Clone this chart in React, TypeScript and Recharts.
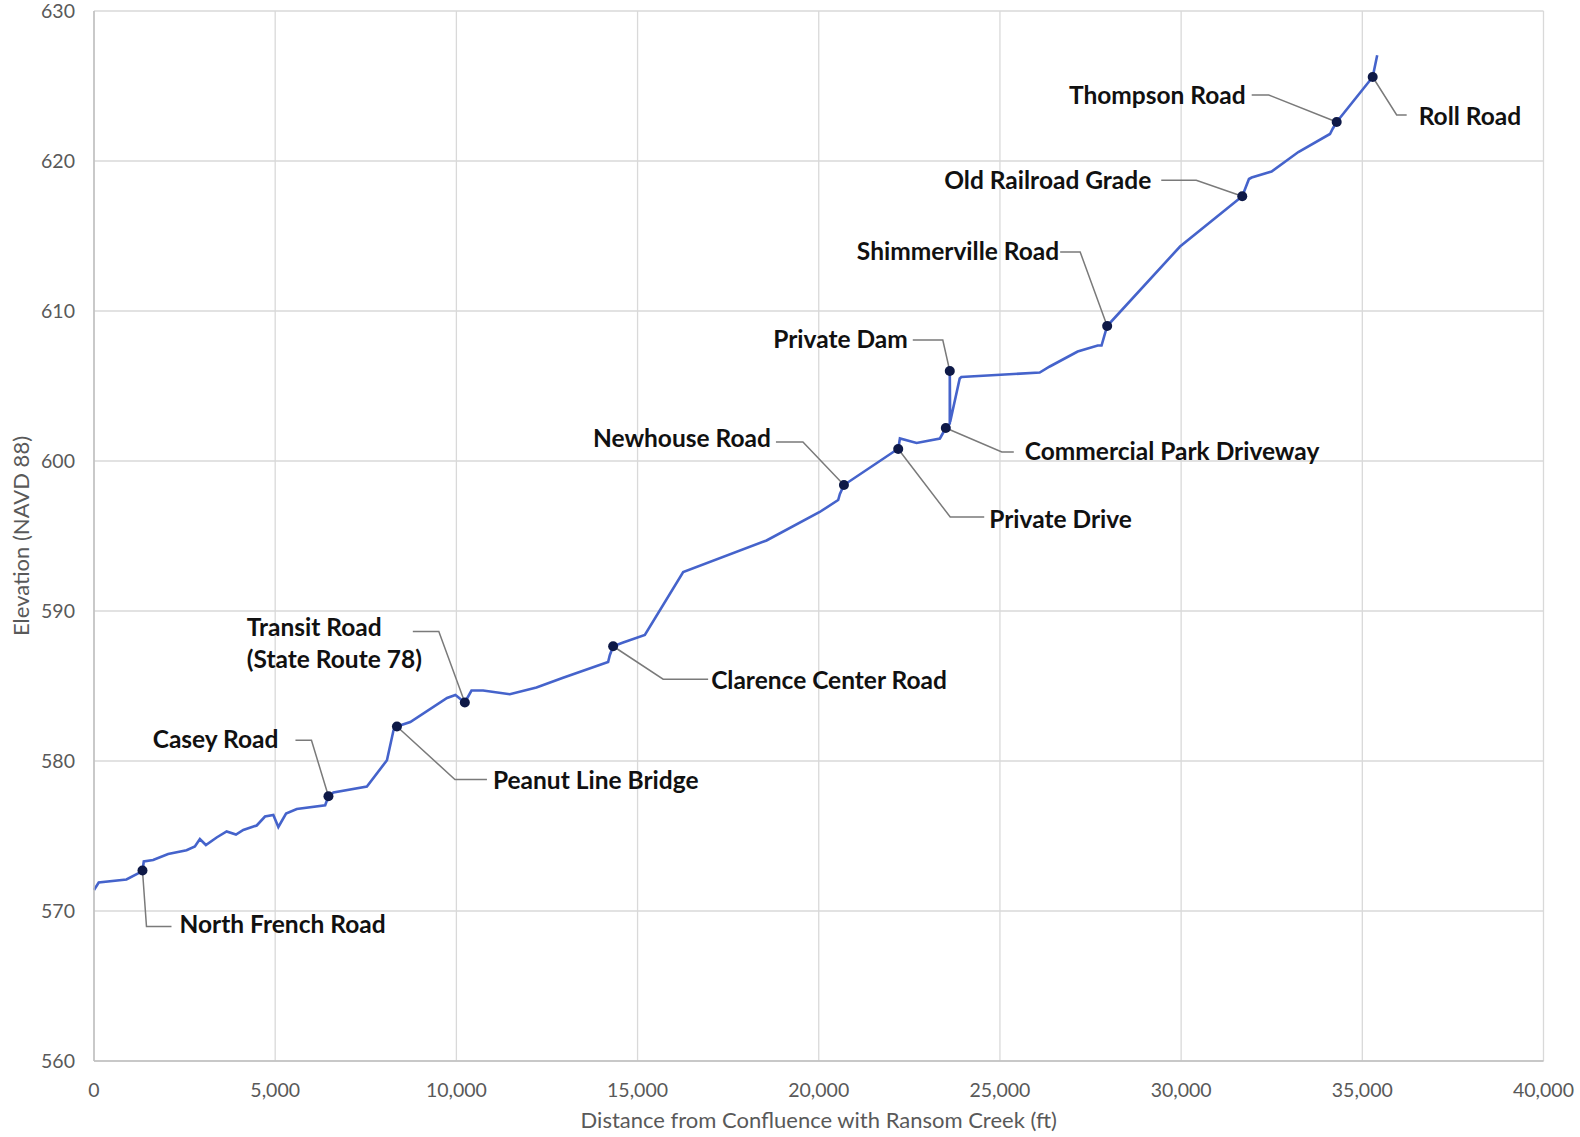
import React from "react";
import {
  ComposedChart,
  Line,
  Scatter,
  XAxis,
  YAxis,
  CartesianGrid,
  Label,
} from "recharts";

// Water surface profile: distance upstream (ft) vs elevation (NAVD 88)
const distanceFt = [
  0, 130, 895, 1217, 1338, 1374, 1631, 2046, 2554, 2784, 2922, 3088, 3384, 3660,
  3918, 4120, 4490, 4719, 4949, 5087, 5300, 5596, 6379, 6470, 6608, 7531, 8084,
  8265, 8360, 8728, 9743, 9973, 10233, 10417, 10738, 11474, 12210, 12945, 14187,
  14234, 14326, 14602, 15201, 16259, 18559, 20027, 20536, 20584, 20695, 22056,
  22193, 22240, 22700, 23344, 23436, 23506, 23616, 23616, 23626, 23890, 23935,
  26097, 26376, 27145, 27699, 27804, 27959, 29970, 31687, 31872, 31947, 32496,
  33235, 34108, 34183, 34293, 35286, 35411,
];
const elevationFt = [
  571.4, 571.9, 572.1, 572.5, 572.7, 573.3, 573.4, 573.8, 574.05, 574.3, 574.8,
  574.4, 574.9, 575.3, 575.1, 575.4, 575.7, 576.3, 576.4, 575.6, 576.5, 576.8,
  577.05, 577.65, 577.9, 578.3, 580.05, 582.05, 582.3, 582.6, 584.2, 584.4,
  583.9, 584.7, 584.7, 584.45, 584.9, 585.55, 586.6, 587.05, 587.65, 587.9,
  588.4, 592.6, 594.7, 596.6, 597.4, 597.8, 598.4, 600.6, 600.8, 601.5, 601.2,
  601.5, 601.9, 602.2, 602.5, 606.0, 602.6, 605.5, 605.6, 605.9, 606.3, 607.3,
  607.7, 607.7, 609.0, 614.3, 617.65, 618.8, 618.9, 619.3, 620.6, 621.8, 622.15,
  622.6, 625.6, 627.05,
];

// Crossings and structures along the reach
const structureNames = [
  "North French Road",
  "Casey Road",
  "Peanut Line Bridge",
  "Transit Road (State Route 78)",
  "Clarence Center Road",
  "Newhouse Road",
  "Private Drive",
  "Commercial Park Driveway",
  "Private Dam",
  "Shimmerville Road",
  "Old Railroad Grade",
  "Thompson Road",
  "Roll Road",
];
const structureDistanceFt = [
  1338, 6470, 8360, 10233, 14326, 20695, 22193, 23506, 23616, 27959, 31687,
  34293, 35286,
];
const structureElevationFt = [
  572.7, 577.65, 582.3, 583.9, 587.65, 598.4, 600.8, 602.2, 606.0, 609.0,
  617.65, 622.6, 625.6,
];

const xTicks = [0, 5000, 10000, 15000, 20000, 25000, 30000, 35000, 40000];
const yTicks = [560, 570, 580, 590, 600, 610, 620, 630];

const profile = distanceFt.map((x, i) => ({ x, elev: elevationFt[i] }));
const structures = structureNames.map((name, i) => ({
  name,
  x: structureDistanceFt[i],
  elev: structureElevationFt[i],
}));

// Callout placement (pixel offsets from each marker): leader elbow, leader end,
// text anchor point and alignment; multi-line labels list their lines.
type Callout = {
  elbow: [number, number];
  endX: number;
  text: [number, number];
  anchor: "start" | "end";
  lines?: string[];
  lineGap?: number;
};
const callouts: Record<string, Callout> = {
  "North French Road": { elbow: [4, 56], endX: 29, text: [37, 53], anchor: "start" },
  "Casey Road": { elbow: [-17, -56], endX: -33, text: [-50, -58], anchor: "end" },
  "Peanut Line Bridge": { elbow: [58, 53], endX: 90, text: [96, 53], anchor: "start" },
  "Transit Road (State Route 78)": {
    elbow: [-26, -71],
    endX: -52,
    text: [-218, -76],
    anchor: "start",
    lines: ["Transit Road", "(State Route 78)"],
    lineGap: 32,
  },
  "Clarence Center Road": { elbow: [50, 33], endX: 95, text: [98, 33], anchor: "start" },
  "Newhouse Road": { elbow: [-41, -43], endX: -68, text: [-73, -48], anchor: "end" },
  "Private Drive": { elbow: [52, 68], endX: 86, text: [91, 69], anchor: "start" },
  "Commercial Park Driveway": { elbow: [56, 24], endX: 68, text: [79, 22], anchor: "start" },
  "Private Dam": { elbow: [-7, -31], endX: -37, text: [-42, -33], anchor: "end" },
  "Shimmerville Road": { elbow: [-27, -74], endX: -47, text: [-48, -76], anchor: "end" },
  "Old Railroad Grade": { elbow: [-46, -16], endX: -81, text: [-91, -17], anchor: "end" },
  "Thompson Road": { elbow: [-68, -27], endX: -85, text: [-91, -28], anchor: "end" },
  "Roll Road": { elbow: [24, 38], endX: 34, text: [46, 38], anchor: "start" },
};

const FONT = "Lato, 'Open Sans', sans-serif";
const LINE_BLUE = "#4563cb";
const MARKER_NAVY = "#0e1947";
const LEADER_GRAY = "#7a7a7a";
const AXIS_TEXT = "#595959";

const StructureMarker = (props: any) => {
  const { cx, cy, payload } = props;
  if (cx == null || cy == null) return null;
  const c = callouts[payload.name];
  const ex = cx + c.elbow[0];
  const ey = cy + c.elbow[1];
  const lines = c.lines ?? [payload.name];
  return (
    <g>
      <polyline
        points={`${cx},${cy} ${ex},${ey} ${cx + c.endX},${ey}`}
        fill="none"
        stroke={LEADER_GRAY}
        strokeWidth={1.5}
      />
      <circle cx={cx} cy={cy} r={5} fill={MARKER_NAVY} />
      {lines.map((ln, i) => (
        <text
          key={ln}
          x={cx + c.text[0]}
          y={cy + c.text[1] + i * (c.lineGap ?? 0)}
          textAnchor={c.anchor}
          dominantBaseline="central"
          fontFamily={FONT}
          fontWeight={700}
          fontSize={24.5}
          fill="#111111"
        >
          {ln}
        </text>
      ))}
    </g>
  );
};

const formatThousands = (v: number) => v.toLocaleString("en-US");

export default function App() {
  return (
    <div style={{ position: "absolute", left: 0, top: 0, width: 1580, height: 1137, background: "#ffffff" }}>
      <ComposedChart
        width={1580}
        height={1137}
        margin={{ top: 11, right: 36.5, bottom: 0, left: 0 }}
        style={{ fontFamily: FONT }}
      >
        <CartesianGrid stroke="#d9d9d9" strokeWidth={1.3} />
        <XAxis
          dataKey="x"
          type="number"
          domain={[0, 40000]}
          ticks={xTicks}
          tickFormatter={formatThousands}
          height={76}
          tickSize={0}
          tickMargin={22}
          axisLine={{ stroke: "#bfbfbf", strokeWidth: 1.5 }}
          tick={{ fill: AXIS_TEXT, fontSize: 19.5, fontFamily: FONT }}
        >
          <Label
            value="Distance from Confluence with Ransom Creek (ft)"
            position="insideBottom"
            offset={9}
            style={{ fill: AXIS_TEXT, fontSize: 22, fontFamily: FONT }}
          />
        </XAxis>
        <YAxis
          type="number"
          domain={[560, 630]}
          ticks={yTicks}
          width={94}
          tickSize={0}
          tickMargin={19}
          axisLine={{ stroke: "#bfbfbf", strokeWidth: 1.5 }}
          tick={{ fill: AXIS_TEXT, fontSize: 19.5, fontFamily: FONT }}
        >
          <Label
            content={({ viewBox }: any) => (
              <text
                x={viewBox.x + 20}
                y={viewBox.y + viewBox.height / 2}
                transform={`rotate(-90 ${viewBox.x + 20} ${viewBox.y + viewBox.height / 2})`}
                textAnchor="middle"
                dominantBaseline="central"
                fill={AXIS_TEXT}
                fontSize={22}
                fontFamily={FONT}
              >
                Elevation (NAVD 88)
              </text>
            )}
          />
        </YAxis>
        <Line
          data={profile}
          dataKey="elev"
          type="linear"
          stroke={LINE_BLUE}
          strokeWidth={2.6}
          dot={false}
          activeDot={false}
          isAnimationActive={false}
        />
        <Scatter
          data={structures}
          dataKey="elev"
          shape={StructureMarker}
          isAnimationActive={false}
        />
      </ComposedChart>
    </div>
  );
}
